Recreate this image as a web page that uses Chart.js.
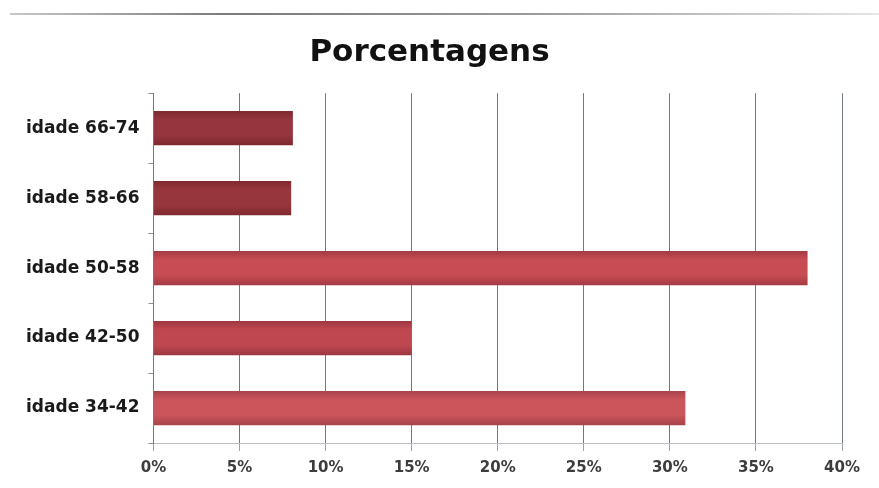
<!DOCTYPE html>
<html>
<head>
<meta charset="utf-8">
<script src="https://cdn.jsdelivr.net/npm/chart.js@4.4.1/dist/chart.umd.min.js"></script>
<style>
  html, body { margin: 0; padding: 0; background: #ffffff; }
  #wrap { position: relative; width: 879px; height: 488px; }
  #topline { position: absolute; left: 10px; top: 13px; width: 869px; height: 2px;
    background: linear-gradient(to right, #c8c8c8, #7a7a7a 25%, #9a9a9a 60%, #e6e6e6); }
</style>
</head>
<body>
<div id="wrap">
  <div id="topline"></div>
  <canvas id="c" width="879" height="488"></canvas>
</div>
<script>
const categories = ["idade 66-74", "idade 58-66", "idade 50-58", "idade 42-50", "idade 34-42"];
const percentages = [8.1, 8.0, 38.0, 15.0, 30.9];
const xTicks = [0, 5, 10, 15, 20, 25, 30, 35, 40];
const titleText = "Porcentagens";
const barMidColors = ["#96353d", "#98363e", "#c74c53", "#bf4850", "#ca555b"];
const barEdgeColors = ["#7e2830", "#80292f", "#a53a44", "#9e3741", "#a8434b"];

function barGradient(ctx) {
  const i = ctx.dataIndex;
  const chart = ctx.chart;
  const y = chart.scales && chart.scales.y;
  if (!y || ctx.type !== 'data') return barMidColors[i];
  const c = y.getPixelForValue(i);
  if (!isFinite(c)) return barMidColors[i];
  const h = 17;
  const g = chart.ctx.createLinearGradient(0, c - h, 0, c + h);
  g.addColorStop(0, barEdgeColors[i]);
  g.addColorStop(0.25, barMidColors[i]);
  g.addColorStop(0.7, barMidColors[i]);
  g.addColorStop(1, barEdgeColors[i]);
  return g;
}

new Chart(document.getElementById('c'), {
  type: 'bar',
  data: {
    labels: categories,
    datasets: [{
      data: percentages,
      backgroundColor: barGradient,
      borderWidth: 0,
      barPercentage: 0.49,
      categoryPercentage: 1.0
    }]
  },
  options: {
    indexAxis: 'y',
    responsive: false,
    animation: false,
    layout: { padding: { left: 17, right: 37, top: 34, bottom: 3 } },
    plugins: {
      legend: { display: false },
      tooltip: { enabled: false },
      title: {
        display: true,
        text: titleText,
        color: '#111111',
        font: { family: 'DejaVu Sans', size: 31, weight: 'bold' },
        padding: { top: 0, bottom: 22 }
      }
    },
    scales: {
      x: {
        min: 0, max: 40,
        afterBuildTicks: (s) => { s.ticks = xTicks.map(v => ({ value: v })); },
        ticks: {
          callback: (v) => v + '%',
          color: '#3d3d3d',
          font: { family: 'DejaVu Sans', size: 15, weight: 'bold' },
          padding: 8
        },
        grid: {
          color: '#6f7883',
          lineWidth: 1,
          drawTicks: true,
          tickLength: 8,
          tickColor: '#9aa0a6'
        },
        border: { display: true, color: '#b9bec4', width: 1 }
      },
      y: {
        ticks: {
          color: '#1a1a1a',
          font: { family: 'DejaVu Sans', size: 17, weight: 'bold' },
          padding: 9
        },
        grid: {
          display: true,
          drawOnChartArea: false,
          drawTicks: true,
          tickLength: 5,
          tickColor: '#8a9099',
          offset: true
        },
        border: { display: true, color: '#6f7883', width: 1 }
      }
    }
  }
});
</script>
</body>
</html>
